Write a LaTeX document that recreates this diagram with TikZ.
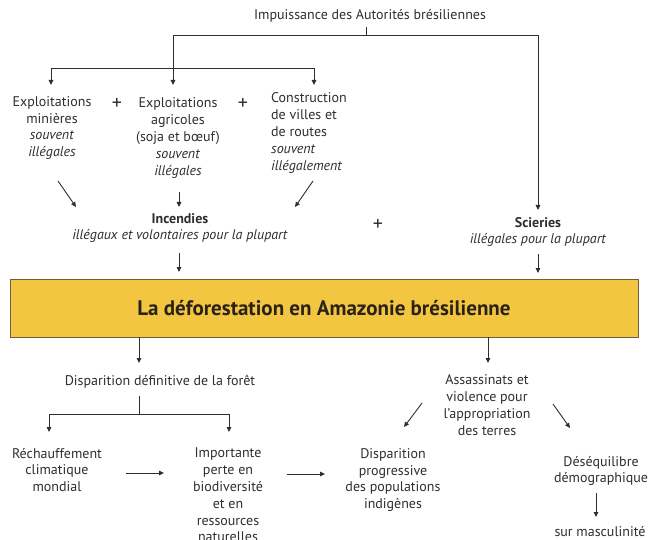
\documentclass[tikz,border=0pt]{standalone}
\usepackage{fontspec}
\setmainfont{PT Sans}
\usetikzlibrary{arrows.meta}
\definecolor{txt}{HTML}{2E2E2E}
\definecolor{boxfill}{HTML}{F2C640}
\definecolor{boxline}{HTML}{6E5E3E}
\definecolor{boxtxt}{HTML}{2A2118}
\tikzset{
  lbl/.style={align=center, text=txt, font=\fontsize{14}{16.8}\selectfont, inner sep=0pt},
  lbll/.style={lbl, align=left},
  ln/.style={draw=txt, line width=0.9pt},
  arr/.style={draw=txt, line width=0.9pt, -{Triangle[length=5pt,width=4.5pt]}},
  plus/.style={text=txt, font=\fontsize{20}{22}\selectfont, inner sep=0pt},
}
\begin{document}
\begin{tikzpicture}[x=1pt,y=-1pt]
\useasboundingbox (0,0) rectangle (661,540);
% top
\node[lbl] (imp) at (370,16) {Impuissance des Autorités brésiliennes};
\coordinate (t0) at (366,27);
\coordinate (tj) at (366,35);
\coordinate (tl) at (173,35);
\coordinate (tr) at (538,35);
\coordinate (ml) at (51,68);
\coordinate (mr) at (314,68);
\node[lbl] (A) at (52,128) {Exploitations\\minières\\\textit{souvent}\\\textit{illégales}};
\node[plus] (p1) at (117,104) {+};
\node[lbl] (B) at (178,138) {Exploitations\\agricoles\\(soja et bœuf)\\\textit{souvent}\\\textit{illégales}};
\node[plus] (p2) at (243,104) {+};
\node[lbll, anchor=west] (C) at (271,133) {Construction\\de villes et\\de routes\\\textit{souvent}\\\textit{illégalement}};
\coordinate (Atip) at (51,85);
\coordinate (Btip) at (173,85);
\coordinate (Ctip) at (314,85);
\draw[ln] (t0) -- (tj);
\draw[ln] (tl) -- (tr);
\draw[arr] (tl) -- (Btip);
\draw[ln] (ml) -- (mr);
\draw[arr] (ml) -- (Atip);
\draw[arr] (mr) -- (Ctip);
\node[lbl] (inc) at (180,228) {\textbf{Incendies}\\\textit{illégaux et volontaires pour la plupart}};
\node[plus] (p3) at (378,225) {+};
\node[lbl] (sci) at (538,232) {\textbf{Scieries}\\\textit{illégales pour la plupart}};
\coordinate (a1s) at (58,181); \coordinate (a1e) at (76,207);
\coordinate (a2s) at (179,192); \coordinate (a2e) at (179,207);
\coordinate (a3s) at (313,181); \coordinate (a3e) at (295,207);
\draw[arr] (a1s) -- (a1e);
\draw[arr] (a2s) -- (a2e);
\draw[arr] (a3s) -- (a3e);
\coordinate (stip) at (538,210);
\draw[arr] (tr) -- (stip);
% box
\node[draw=boxline, fill=boxfill, line width=0.7pt, minimum width=628pt, minimum height=58pt, inner sep=0pt,
      text=boxtxt, font=\fontsize{21}{24}\selectfont\bfseries] (box) at (324,308) {La déforestation en Amazonie brésilienne};
\coordinate (b1s) at (179,253); \coordinate (b1e) at (179,272);
\coordinate (b2s) at (538,254); \coordinate (b2e) at (538,273);
\draw[arr] (b1s) -- (b1e);
\draw[arr] (b2s) -- (b2e);
% bottom
\node[lbl] (dis) at (160,382) {Disparition définitive de la forêt};
\node[lbl] (ass) at (487,405) {Assassinats et\\violence pour\\l’appropriation\\des terres};
\coordinate (c1) at (139,363); \coordinate (c2) at (488,363);
\draw[arr] (box.south -| c1) -- (c1);
\draw[arr] (box.south -| c2) -- (c2);
\coordinate (d0) at (139,396);
\coordinate (dj) at (139,414);
\coordinate (dl) at (49,414);
\coordinate (dr) at (229,414);
\coordinate (dlt) at (49,432);
\coordinate (drt) at (229,432);
\draw[ln] (d0) -- (dj);
\draw[ln] (dl) -- (dr);
\draw[arr] (dl) -- (dlt);
\draw[arr] (dr) -- (drt);
\node[lbl] (rec) at (57,470) {Réchauffement\\climatique\\mondial};
\node[lbl] (imp2) at (228,495) {Importante\\perte en\\biodiversité\\et en\\ressources\\naturelles};
\node[lbl] (pop) at (393,480) {Disparition\\progressive\\des populations\\indigènes};
\node[lbl] (des) at (601,471) {Déséquilibre\\démographique};
\node[lbl] (sur) at (600,532) {sur masculinité};
\coordinate (e1s) at (126,473); \coordinate (e1e) at (164,473);
\coordinate (e2s) at (287,474); \coordinate (e2e) at (325,474);
\draw[arr] (e1s) -- (e1e);
\draw[arr] (e2s) -- (e2e);
\coordinate (f1s) at (422,403); \coordinate (f1e) at (404,427);
\coordinate (f2s) at (553,404); \coordinate (f2e) at (570,428);
\draw[arr] (f1s) -- (f1e);
\draw[arr] (f2s) -- (f2e);
\coordinate (g1) at (596,493); \coordinate (g2) at (596,517);
\draw[arr] (g1) -- (g2);
\end{tikzpicture}
\end{document}
